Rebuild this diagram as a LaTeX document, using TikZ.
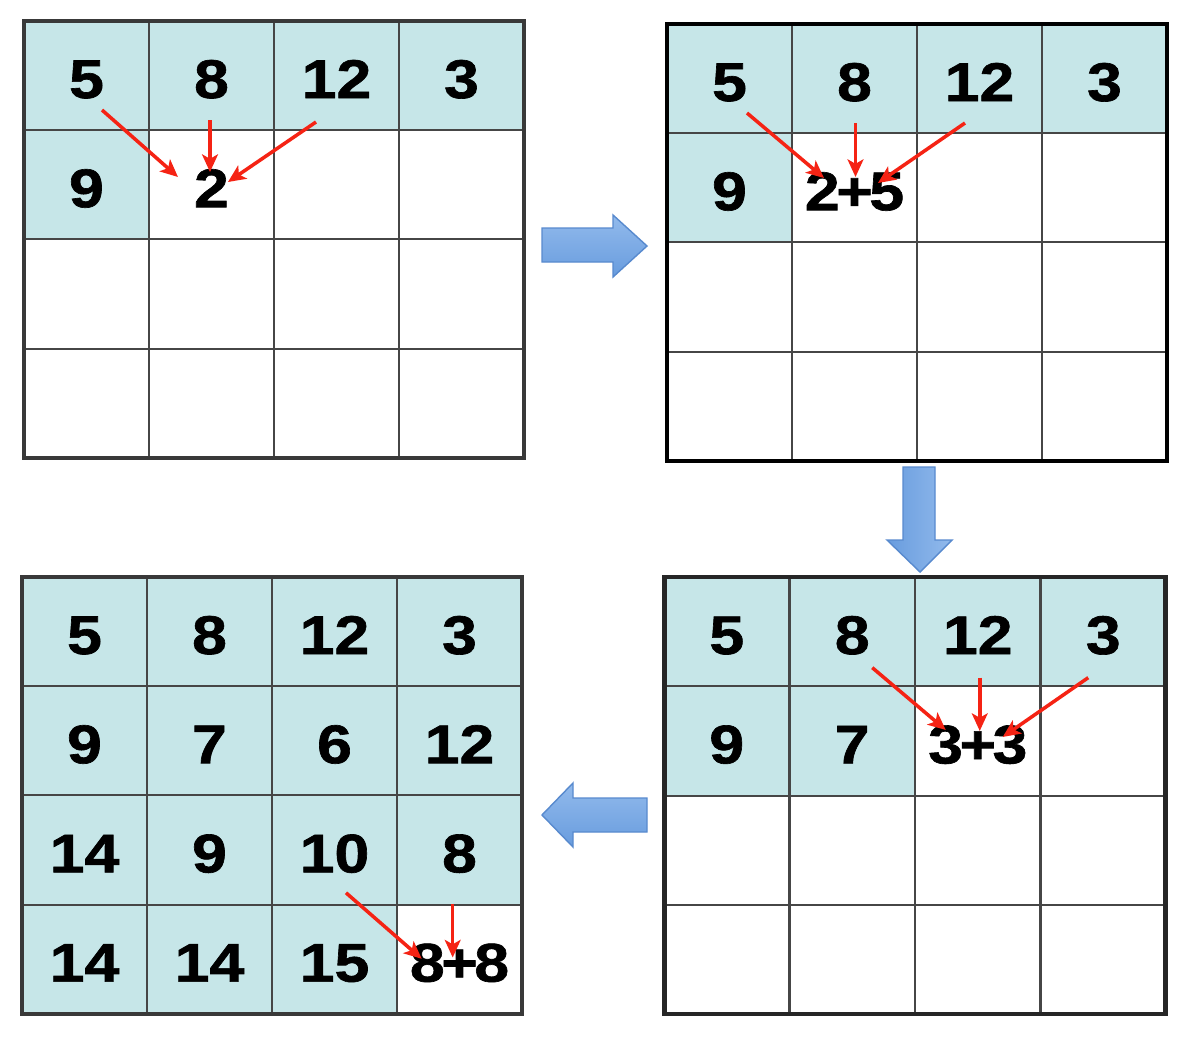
\documentclass[tikz,border=0pt]{standalone}
\usepackage{fontspec}
\newfontfamily\numfont{Liberation Sans Bold}[FakeStretch=1.15, FakeBold=1.2]
\usetikzlibrary{arrows.meta}
\definecolor{cellblue}{RGB}{198,230,232}
\definecolor{gridgray}{RGB}{70,70,70}
\definecolor{redline}{RGB}{245,35,20}
\definecolor{arrowtop}{RGB}{146,186,236}
\definecolor{arrowbot}{RGB}{104,156,222}
\definecolor{arrowedge}{RGB}{88,138,206}
\newcommand\plus{\kern-2pt+\kern-2pt}

\begin{document}
\begin{tikzpicture}
  [x=0.02cm, y=-0.02cm,
   cell/.style={draw=gridgray, line width=1.1pt, fill=white,
     minimum width=2.5cm, minimum height=2.184cm,
     inner sep=0pt, outer sep=0pt, text height=25.5pt, text depth=0pt,
     font=\numfont\fontsize{31}{31}\selectfont},
   redarrow/.style={draw=redline, line width=2pt,
     -{Stealth[length=10pt,width=9pt,inset=2.5pt]}},
   blockarrow/.style={draw=arrowedge, line width=0.8pt,
     top color=arrowtop, bottom color=arrowbot},
   framegray/.style={draw=gray!45!black, line width=2.2pt},
   frameblack/.style={draw=black, line width=2.6pt}]

  \fill[white] (0,0) rectangle (1188,1038);
  \useasboundingbox (0,0) rectangle (1188,1038);

  % first step
  \begin{scope}[shift={(24,21)}]
    \foreach \r in {1,...,4} \foreach \c in {1,...,4}
      \node[cell] (a\r\c) at ({125*(\c-.5)},{109.2*(\r-.5)}) {};
    \foreach \r/\c/\v/\f in {1/1/5/cellblue, 1/2/8/cellblue, 1/3/12/cellblue,
        1/4/3/cellblue, 2/1/9/cellblue, 2/2/2/white}
      \node[cell, fill=\f] (a\r\c) at ({125*(\c-.5)},{109.2*(\r-.5)}) {\v};
  \end{scope}
  \draw[framegray] (a11.north west) rectangle (a44.south east);

  % second step
  \begin{scope}[shift={(667,24)}]
    \foreach \r in {1,...,4} \foreach \c in {1,...,4}
      \node[cell] (b\r\c) at ({125*(\c-.5)},{109.2*(\r-.5)}) {};
    \foreach \r/\c/\v/\f in {1/1/5/cellblue, 1/2/8/cellblue, 1/3/12/cellblue,
        1/4/3/cellblue, 2/1/9/cellblue, 2/2/2\plus5/white}
      \node[cell, fill=\f] (b\r\c) at ({125*(\c-.5)},{109.2*(\r-.5)}) {\v};
  \end{scope}
  \draw[frameblack] (b11.north west) rectangle (b44.south east);

  % third step
  \begin{scope}[shift={(664,577)}]
    \foreach \r in {1,...,4} \foreach \c in {1,...,4}
      \node[cell] (c\r\c) at ({125.5*(\c-.5)},{109.3*(\r-.5)}) {};
    \foreach \r/\c/\v/\f in {1/1/5/cellblue, 1/2/8/cellblue, 1/3/12/cellblue,
        1/4/3/cellblue, 2/1/9/cellblue, 2/2/7/cellblue, 2/3/3\plus3/white}
      \node[cell, fill=\f] (c\r\c) at ({125.5*(\c-.5)},{109.3*(\r-.5)}) {\v};
  \end{scope}
  \draw[frameblack, draw=black!85] (c11.north west) rectangle (c44.south east);

  % last step
  \begin{scope}[shift={(22,577)}]
    \foreach \r/\c/\v/\f in {1/1/5/cellblue, 1/2/8/cellblue, 1/3/12/cellblue,
        1/4/3/cellblue, 2/1/9/cellblue, 2/2/7/cellblue, 2/3/6/cellblue,
        2/4/12/cellblue, 3/1/14/cellblue, 3/2/9/cellblue, 3/3/10/cellblue,
        3/4/8/cellblue, 4/1/14/cellblue, 4/2/14/cellblue, 4/3/15/cellblue,
        4/4/8\plus8/white}
      \node[cell, fill=\f] (d\r\c) at ({125*(\c-.5)},{109.2*(\r-.5)}) {\v};
  \end{scope}
  \draw[framegray] (d11.north west) rectangle (d44.south east);

  % sums
  \draw[redarrow] ([shift={(15.5,34.4)}]a11.center) -- ([shift={(-33.5,-7.8)}]a22.center);
  \draw[redarrow] ([shift={(-1.5,44.4)}]a12.center) -- ([shift={(-1.5,-12.8)}]a22.center);
  \draw[redarrow] ([shift={(-20.5,46.4)}]a13.center) -- ([shift={(16.5,-2.8)}]a22.center);

  \draw[redarrow] ([shift={(17.5,34.4)}]b11.center) -- ([shift={(-30.5,-9.8)}]b22.center);
  \draw[redarrow] ([shift={(1,44.4)}]b12.center) -- ([shift={(1,-10.8)}]b22.center);
  \draw[redarrow] ([shift={(-14.5,44.4)}]b13.center) -- ([shift={(23.5,-4.8)}]b22.center);

  \draw[redarrow] ([shift={(20,36)}]c12.center) -- ([shift={(-32,-11)}]c23.center);
  \draw[redarrow] ([shift={(2,46)}]c13.center) -- ([shift={(2,-10)}]c23.center);
  \draw[redarrow] ([shift={(-15,46)}]c14.center) -- ([shift={(25,-4)}]c23.center);

  \draw[redarrow] ([shift={(11.5,42.8)}]d33.center) -- ([shift={(-37.8,-0.4)}]d44.center);
  \draw[redarrow] ([shift={(-6.8,53.5)}]d34.center) -- ([shift={(-6.8,-1.7)}]d44.center);

  % steps between the grids
  \draw[blockarrow] (542,228) -- (613,228) -- (613,215) -- (647,246)
    -- (613,277) -- (613,262) -- (542,262) -- cycle;
  \draw[blockarrow, left color=arrowbot, right color=arrowtop]
    (903,467) -- (935,467) -- (935,540) -- (952,540) -- (920,572)
    -- (887,540) -- (903,540) -- cycle;
  \draw[blockarrow] (647,798) -- (573,798) -- (573,783) -- (542,815)
    -- (573,847) -- (573,832) -- (647,832) -- cycle;
\end{tikzpicture}
\end{document}
